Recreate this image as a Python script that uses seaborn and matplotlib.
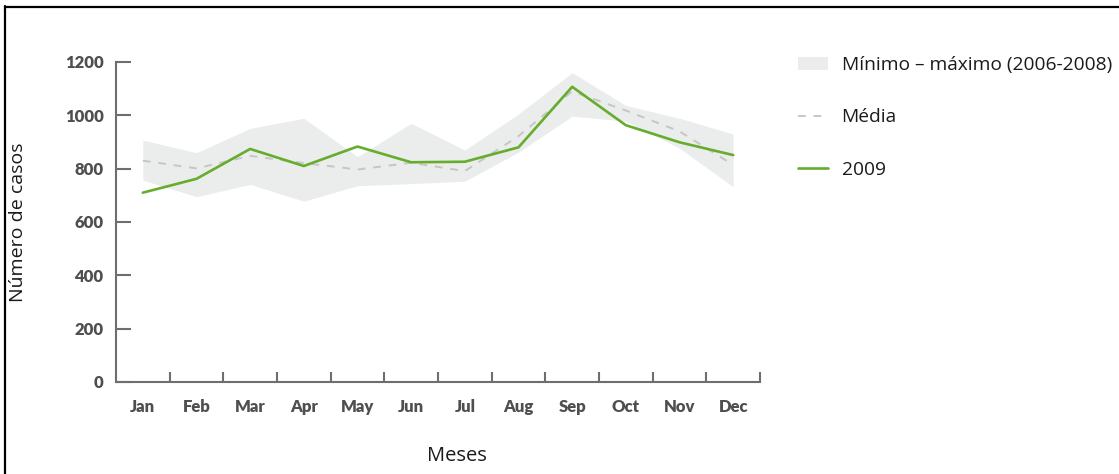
import matplotlib
matplotlib.use("Agg")
import matplotlib.pyplot as plt
import matplotlib.patches as mpatches
from matplotlib.lines import Line2D
import numpy as np
import pandas as pd
import seaborn as sns

# Monthly case counts
months = ["Jan", "Feb", "Mar", "Apr", "May", "Jun",
          "Jul", "Aug", "Sep", "Oct", "Nov", "Dec"]
cases_2009 = [710, 762, 874, 810, 883, 824, 826, 880, 1107, 963, 899, 851]
mean_2006_2008 = [830, 801, 848, 821, 797, 822, 791, 922, 1090, 1018, 940, 814]
min_2006_2008 = [757, 695, 741, 678, 736, 744, 753, 862, 997, 978, 877, 732]
max_2006_2008 = [907, 860, 951, 989, 845, 970, 870, 1005, 1160, 1037, 989, 930]
y_ticks = [0, 200, 400, 600, 800, 1000, 1200]

df = pd.DataFrame({
    "pos": np.arange(len(months)),
    "mes": months,
    "2009": cases_2009,
    "media": mean_2006_2008,
    "min": min_2006_2008,
    "max": max_2006_2008,
})

sns.set_theme(style="white")
plt.rcParams["font.family"] = ["Open Sans", "DejaVu Sans"]

GREEN = "#66ad2e"
BAND = "#ebecec"
DASH = "#c6c6c6"
AXIS = "#6e6e6e"
TICKTXT = "#4f4f4f"

fig = plt.figure(figsize=(11.19, 4.74), dpi=100)
ax = fig.add_axes([116 / 1119, 1 - 382 / 474, 644 / 1119, 320 / 474])

ax.fill_between(df["pos"], df["min"], df["max"], color=BAND, lw=0, zorder=1)
sns.lineplot(data=df, x="pos", y="media", ax=ax, color=DASH, lw=1.4,
             linestyle=(0, (4, 4)), zorder=2)
sns.lineplot(data=df, x="pos", y="2009", ax=ax, color=GREEN, lw=1.9, zorder=3)

ax.set_xlim(-0.5, len(months) - 0.5)
ax.set_ylim(0, 1200)

for side in ("top", "right"):
    ax.spines[side].set_visible(False)
for side in ("left", "bottom"):
    ax.spines[side].set_color(AXIS)
    ax.spines[side].set_linewidth(1.5)

# y ticks point inward
ax.set_yticks(y_ticks)
ax.set_yticklabels([str(v) for v in y_ticks])
ax.tick_params(axis="y", which="major", direction="in", length=11, width=1.5,
               color=AXIS, pad=9, labelsize=12, labelcolor=TICKTXT, left=True)

# x: tick marks at month boundaries, labels at month centres
ax.set_xticks(np.arange(len(months)) + 0.5)
ax.set_xticklabels([])
ax.set_xticks(np.arange(len(months)), minor=True)
ax.set_xticklabels(months, minor=True)
ax.tick_params(axis="x", which="major", direction="in", length=7, width=1.5,
               color=AXIS, bottom=True)
ax.tick_params(axis="x", which="minor", length=0, pad=12, labelsize=12,
               labelcolor=TICKTXT)
for lab in ax.get_yticklabels() + ax.get_xticklabels(minor=True):
    lab.set_fontfamily("Lato")
    lab.set_fontweight("heavy")

ax.set_xlabel("Meses", fontsize=14.5, color="#1a1a1a")
ax.set_ylabel("Número de casos", fontsize=14, color="#1a1a1a")
ax.xaxis.set_label_coords(0.53, -0.2)
ax.yaxis.set_label_coords(-0.138, 0.5)

handles = [
    mpatches.Patch(facecolor=BAND, edgecolor="none"),
    Line2D([], [], color=DASH, lw=1.4, linestyle=(0, (4, 4))),
    Line2D([], [], color=GREEN, lw=1.9),
]
labels = ["Mínimo – máximo (2006-2008)", "Média", "2009"]
ax.legend(handles, labels, loc="upper left",
          bbox_to_anchor=(798 / 1119, 1 - 56 / 474),
          bbox_transform=fig.transFigure, frameon=False, fontsize=13.8,
          borderpad=0, borderaxespad=0, handlelength=1.55, handleheight=0.65,
          handletextpad=0.72, labelspacing=1.8, labelcolor="#1a1a1a")

# frame lines along the top and left edges
fig.add_artist(Line2D([5 / 1119, 5 / 1119], [0, 1 - 6 / 474],
                      transform=fig.transFigure, color="black", lw=1.6))
fig.add_artist(Line2D([5 / 1119, 1], [1 - 6.5 / 474, 1 - 6.5 / 474],
                      transform=fig.transFigure, color="black", lw=1.6))

fig.savefig("out.png", dpi=100)
